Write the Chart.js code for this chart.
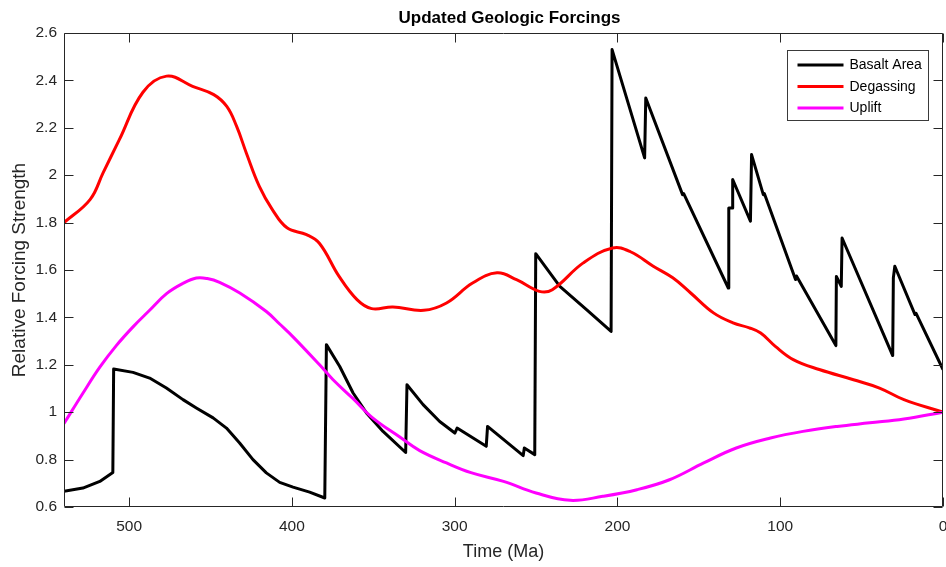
<!DOCTYPE html>
<html><head><meta charset="utf-8">
<script src="https://cdn.jsdelivr.net/npm/chart.js@4/dist/chart.umd.min.js"></script>
<style>html,body{margin:0;padding:0;background:#fff;} canvas{display:block;}</style>
</head><body>
<canvas id="c" width="946" height="567"></canvas>
<script>
const chartTitle = 'Updated Geologic Forcings';
const xAxisTitle = 'Time (Ma)';
const yAxisTitle = 'Relative Forcing Strength';
const seriesNames = ['Basalt Area', 'Degassing', 'Uplift'];
const seriesColors = ['#000000', '#ff0000', '#ff00ff'];

const basaltTime = [540, 528.4, 518, 510, 509.5, 497.6, 487.4, 477.1, 466.9, 458.7, 448.4, 440.2, 432.1, 423.9, 415.7, 407.5, 399.3, 389.1, 379.8,
  378.8, 370.6, 362.4, 354.2, 344, 330.1,
  329.3, 319.4, 309.2, 299.9, 298.5, 280.6,
  279.8, 257.9, 257.2, 250.8,
  250.2, 235.4, 219, 203.9,
  203.3, 183.3, 182.6, 160, 159.3, 131.9,
  131.6, 129.5, 129.2, 118.3, 117.6, 110.4, 109.7, 90.6, 90, 65.8,
  65.5, 62.5, 62, 30.9, 30.5, 29.6, 17.2, 16.6, 0];
const basaltValue = [0.666, 0.68, 0.708, 0.746, 1.182, 1.168, 1.144, 1.102, 1.053, 1.018, 0.976, 0.933, 0.87, 0.80, 0.744, 0.704, 0.684, 0.663, 0.638,
  1.285, 1.193, 1.081, 0.997, 0.919, 0.83,
  1.116, 1.032, 0.961, 0.912, 0.933, 0.856,
  0.94, 0.817, 0.849, 0.821,
  1.669, 1.531, 1.433, 1.341,
  2.53, 2.073, 2.326, 1.918, 1.922, 1.524,
  1.862, 1.862, 1.982, 1.806, 2.087, 1.918, 1.922, 1.56, 1.575, 1.281,
  1.573, 1.531, 1.735, 1.239, 1.567, 1.616, 1.412, 1.418, 1.18];

const degassingTime = [540, 524, 516, 506, 491.5, 477, 461, 448, 440, 434, 428, 420, 412, 403, 391, 383, 371, 360, 351, 338, 319, 305,
  289, 274, 262, 248, 240, 221, 203, 192, 178, 166, 155, 141, 129, 119, 112, 103, 92, 76, 55, 39, 24, 0];
const degassingValue = [1.80, 1.897, 2.01, 2.15, 2.35, 2.418, 2.375, 2.34, 2.29, 2.207, 2.094, 1.953, 1.855, 1.778, 1.749, 1.712, 1.573, 1.475, 1.437, 1.444, 1.43, 1.461,
  1.545, 1.588, 1.559, 1.51, 1.517, 1.63, 1.693, 1.677, 1.616, 1.567, 1.503, 1.419, 1.377, 1.356, 1.334, 1.278, 1.222, 1.18, 1.137, 1.102, 1.053, 1.0];

const upliftTime = [540, 528.4, 518, 508, 497.6, 487.4, 477, 467, 458.7, 452, 444.4, 432, 415.7, 407.5, 399.3, 383, 374.7, 362.4, 350.2, 333.7, 321.5, 305,
  290, 270, 250, 229, 209, 188, 168, 147, 127, 106, 86, 65, 45, 24, 0];
const upliftValue = [0.952, 1.08, 1.19, 1.28, 1.36, 1.43, 1.50, 1.543, 1.566, 1.564, 1.548, 1.503, 1.425, 1.372, 1.318, 1.2, 1.137, 1.057, 0.975, 0.895, 0.838, 0.786,
  0.745, 0.708, 0.659, 0.628, 0.645, 0.673, 0.715, 0.786, 0.849, 0.891, 0.919, 0.94, 0.955, 0.971, 1.0];

const xTickValues = [500, 400, 300, 200, 100, 0];
const xTickLabels = ['500', '400', '300', '200', '100', '0'];
const yTickValues = [0.6, 0.8, 1, 1.2, 1.4, 1.6, 1.8, 2, 2.2, 2.4, 2.6];
const yTickLabels = ['0.6', '0.8', '1', '1.2', '1.4', '1.6', '1.8', '2', '2.2', '2.4', '2.6'];

const FONT = "'Liberation Sans', Arial, Helvetica, sans-serif";
const AXIS = '#262626';

function pts(t, v) { return t.map((x, i) => ({x: x, y: v[i]})); }

const frameLegendPlugin = {
  id: 'frameLegend',
  afterDatasetsDraw(chart) {
    const {ctx, chartArea: a, scales: {x, y}} = chart;
    ctx.save();
    ctx.strokeStyle = AXIS;
    ctx.lineWidth = 1;
    const L = Math.round(a.left) + 0.5, R = Math.round(a.right) - 0.5;
    const T = Math.round(a.top) + 0.5, B = Math.round(a.bottom) - 0.5;
    const tl = 9;
    ctx.beginPath();
    ctx.rect(L, T, R - L, B - T);
    x.ticks.forEach(t => {
      const p = Math.round(x.getPixelForValue(t.value)) + 0.5;
      ctx.moveTo(p, B); ctx.lineTo(p, B - tl);
      ctx.moveTo(p, T); ctx.lineTo(p, T + tl);
    });
    y.ticks.forEach(t => {
      const p = Math.round(y.getPixelForValue(t.value)) + 0.5;
      ctx.moveTo(L, p); ctx.lineTo(L + tl, p);
      ctx.moveTo(R, p); ctx.lineTo(R - tl, p);
    });
    ctx.stroke();

    // title
    ctx.fillStyle = '#000000';
    ctx.font = 'bold 17px ' + FONT;
    ctx.textAlign = 'center';
    ctx.textBaseline = 'middle';
    ctx.fillText(chartTitle, (a.left + a.right) / 2 + 6, 18);

    // legend box
    const bw = 141, bh = 70;
    const bx = Math.round(a.right - 15.5 - bw) + 0.5;
    const by = Math.round(a.top + 17) + 0.5;
    ctx.fillStyle = '#ffffff';
    ctx.fillRect(bx, by, bw, bh);
    ctx.strokeStyle = '#3a3a3a';
    ctx.lineWidth = 1;
    ctx.strokeRect(bx, by, bw, bh);
    ctx.font = '14px ' + FONT;
    ctx.textBaseline = 'middle';
    ctx.textAlign = 'left';
    chart.data.datasets.forEach((ds, i) => {
      const ly = by + 14.5 + i * 21.5;
      ctx.strokeStyle = ds.borderColor;
      ctx.lineWidth = 3;
      ctx.beginPath();
      ctx.moveTo(bx + 10, ly); ctx.lineTo(bx + 56, ly);
      ctx.stroke();
      ctx.fillStyle = '#000000';
      ctx.fillText(ds.label, bx + 62, ly + 0.5);
    });
    ctx.restore();
  }
};

new Chart(document.getElementById('c'), {
  type: 'scatter',
  data: {
    datasets: [
      {label: seriesNames[0], data: pts(basaltTime, basaltValue), borderColor: seriesColors[0], backgroundColor: seriesColors[0], showLine: true, tension: 0, borderWidth: 3, pointRadius: 0, order: 3, borderJoinStyle: 'round'},
      {label: seriesNames[1], data: pts(degassingTime, degassingValue), borderColor: seriesColors[1], backgroundColor: seriesColors[1], showLine: true, tension: 0.4, borderWidth: 3, pointRadius: 0, order: 2},
      {label: seriesNames[2], data: pts(upliftTime, upliftValue), borderColor: seriesColors[2], backgroundColor: seriesColors[2], showLine: true, tension: 0.4, borderWidth: 3, pointRadius: 0, order: 1}
    ]
  },
  options: {
    responsive: false,
    animation: false,
    layout: {padding: {left: 0, right: 3, top: 33, bottom: 0}},
    plugins: {
      legend: {display: false},
      tooltip: {enabled: false},
      title: {display: false}
    },
    scales: {
      x: {
        type: 'linear', reverse: true, min: 0, max: 540,
        grid: {display: false, drawTicks: false},
        border: {display: false},
        afterBuildTicks: s => { s.ticks = xTickValues.map(v => ({value: v})); },
        afterFit: s => { s.height = 60; s.paddingLeft = 0; s.paddingRight = 0; },
        ticks: {
          color: AXIS, font: {family: FONT, size: 15.5}, padding: 10, maxRotation: 0, autoSkip: false,
          callback: (v) => { const i = xTickValues.indexOf(v); return i >= 0 ? xTickLabels[i] : ''; }
        },
        title: {display: true, text: xAxisTitle, color: AXIS, font: {family: FONT, size: 18}, padding: {top: 0, bottom: 4}}
      },
      y: {
        type: 'linear', min: 0.6, max: 2.6,
        grid: {display: false, drawTicks: false},
        border: {display: false},
        afterBuildTicks: s => { s.ticks = yTickValues.map(v => ({value: v})); },
        afterFit: s => { s.width = 64; s.paddingTop = 0; s.paddingBottom = 0; },
        ticks: {
          color: AXIS, font: {family: FONT, size: 15.5}, padding: 7, autoSkip: false,
          callback: (v) => { const i = yTickValues.findIndex(t => Math.abs(t - v) < 1e-9); return i >= 0 ? yTickLabels[i] : ''; }
        },
        title: {display: true, text: yAxisTitle, color: AXIS, font: {family: FONT, size: 19}, padding: {top: 8, bottom: 0}}
      }
    }
  },
  plugins: [frameLegendPlugin]
});
</script>
</body></html>
